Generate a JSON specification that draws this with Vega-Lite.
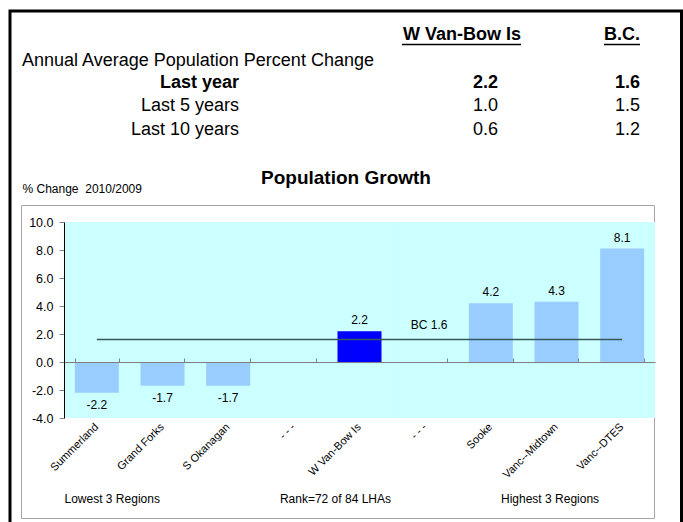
{
  "$schema": "https://vega.github.io/schema/vega-lite/v6.json",
  "width": 671.5,
  "height": 513,
  "autosize": {"type": "none"},
  "padding": {"left": 10, "top": 11, "right": 1.5, "bottom": -2},
  "background": "white",
  "config": {
    "view": {"stroke": "#000000", "strokeWidth": 3},
    "font": "Liberation Sans",
    "text": {"font": "Liberation Sans", "color": "#000000"},
    "locale": {"number": {"decimal": ".", "thousands": ",", "grouping": [3], "currency": ["$", ""], "minus": "-"}}
  },
  "datasets": {
    "regions": [
      {"region": "Summerland", "value": -2.2},
      {"region": "Grand Forks", "value": -1.7},
      {"region": "S Okanagan", "value": -1.7},
      {"region": "- - -", "value": null},
      {"region": "W Van-Bow Is", "value": 2.2},
      {"region": "- - - ", "value": null},
      {"region": "Sooke", "value": 4.2},
      {"region": "Vanc--Midtown", "value": 4.3},
      {"region": "Vanc--DTES", "value": 8.1}
    ],
    "bcline": [
      {"region": "Summerland", "bc": 1.6},
      {"region": "Vanc--DTES", "bc": 1.6}
    ],
    "bclabel": [
      {"region": "- - - ", "bc": 1.6, "label": "BC 1.6"}
    ],
    "table": [
      {"row": "header", "col": "W Van-Bow Is", "text": "W Van-Bow Is", "bold": true, "kind": "head"},
      {"row": "header", "col": "B.C.", "text": "B.C.", "bold": true, "kind": "head"},
      {"row": "annual", "col": "label", "text": "Annual Average Population Percent Change", "bold": false, "kind": "caption"},
      {"row": "Last year", "col": "label", "text": "Last year", "bold": true, "kind": "cell"},
      {"row": "Last year", "col": "W Van-Bow Is", "text": "2.2", "bold": true, "kind": "cell"},
      {"row": "Last year", "col": "B.C.", "text": "1.6", "bold": true, "kind": "cell"},
      {"row": "Last 5 years", "col": "label", "text": "Last 5 years", "bold": false, "kind": "cell"},
      {"row": "Last 5 years", "col": "W Van-Bow Is", "text": "1.0", "bold": false, "kind": "cell"},
      {"row": "Last 5 years", "col": "B.C.", "text": "1.5", "bold": false, "kind": "cell"},
      {"row": "Last 10 years", "col": "label", "text": "Last 10 years", "bold": false, "kind": "cell"},
      {"row": "Last 10 years", "col": "W Van-Bow Is", "text": "0.6", "bold": false, "kind": "cell"},
      {"row": "Last 10 years", "col": "B.C.", "text": "1.2", "bold": false, "kind": "cell"},
      {"row": "title", "col": "label", "text": "Population Growth", "bold": true, "kind": "title"}
    ]
  },
  "layer": [
    {
      "data": {"values": [{"box": "chart frame"}]},
      "mark": {"type": "rect", "fillOpacity": 0, "stroke": "#A6A6A6", "strokeWidth": 1},
      "encoding": {
        "x": {"datum": 0, "type": "quantitative", "scale": {"domain": [0, 1], "range": [11.5, 644.5], "nice": false, "zero": false}, "axis": null},
        "x2": {"datum": 1},
        "y": {"datum": 0, "type": "quantitative", "scale": {"domain": [0, 1], "range": [194.5, 507.5], "nice": false, "zero": false}, "axis": null},
        "y2": {"datum": 1}
      }
    },
    {
      "data": {"name": "table"},
      "encoding": {
        "x": {"field": "col", "type": "nominal", "scale": {"type": "point", "domain": ["label", "W Van-Bow Is", "B.C."], "range": [229, 630], "padding": 0}, "axis": null},
        "y": {"field": "row", "type": "nominal", "scale": {"type": "point", "domain": ["header", "annual", "Last year", "Last 5 years", "Last 10 years", "gap", "title"], "range": [24, 166.5], "padding": 0}, "axis": null},
        "text": {"field": "text"}
      },
      "layer": [
        {"transform": [{"filter": "(datum.kind === 'cell' || datum.kind === 'head') && datum.col !== 'W Van-Bow Is' && datum.bold"}],
         "mark": {"type": "text", "align": "right", "baseline": "middle", "fontSize": 18, "fontWeight": "bold"}},
        {"transform": [{"filter": "datum.kind === 'cell' && datum.col !== 'W Van-Bow Is' && !datum.bold"}],
         "mark": {"type": "text", "align": "right", "baseline": "middle", "fontSize": 18}},
        {"transform": [{"filter": "datum.kind === 'cell' && datum.col === 'W Van-Bow Is' && datum.bold"}],
         "mark": {"type": "text", "align": "right", "baseline": "middle", "fontSize": 18, "fontWeight": "bold", "dx": 58.5}},
        {"transform": [{"filter": "datum.kind === 'cell' && datum.col === 'W Van-Bow Is' && !datum.bold"}],
         "mark": {"type": "text", "align": "right", "baseline": "middle", "fontSize": 18, "dx": 58.5}},
        {"transform": [{"filter": "datum.kind === 'head' && datum.col === 'W Van-Bow Is'"}],
         "mark": {"type": "text", "align": "right", "baseline": "middle", "fontSize": 18, "fontWeight": "bold", "dx": 81.5}},
        {"transform": [{"filter": "datum.kind === 'caption'"}],
         "mark": {"type": "text", "align": "left", "baseline": "middle", "fontSize": 18, "dx": -217, "dy": 2}},
        {"transform": [{"filter": "datum.kind === 'title'"}],
         "mark": {"type": "text", "align": "center", "baseline": "middle", "fontSize": 19, "fontWeight": "bold", "dx": 107}},
        {"transform": [{"filter": "datum.kind === 'head' && datum.col === 'W Van-Bow Is'"}],
         "mark": {"type": "rule", "color": "#000000", "strokeWidth": 1.5, "xOffset": -37.5, "x2Offset": 81.5, "yOffset": 9.5, "y2Offset": 9.5},
         "encoding": {"x2": {"field": "col"}, "y2": {"field": "row"}, "text": null}},
        {"transform": [{"filter": "datum.kind === 'head' && datum.col === 'B.C.'"}],
         "mark": {"type": "rule", "color": "#000000", "strokeWidth": 1.5, "xOffset": -36, "x2Offset": 0, "yOffset": 9.5, "y2Offset": 9.5},
         "encoding": {"x2": {"field": "col"}, "y2": {"field": "row"}, "text": null}}
      ]
    },
    {
      "data": {"name": "regions"},
      "layer": [
        {
          "mark": {"type": "bar", "width": {"band": 1.5}, "color": "#CCFFFF"},
          "encoding": {
            "x": {"field": "region", "type": "nominal", "sort": null,
                  "scale": {"type": "band", "domain": ["Summerland", "Grand Forks", "S Okanagan", "- - -", "W Van-Bow Is", "- - - ", "Sooke", "Vanc--Midtown", "Vanc--DTES"], "range": [54, 645], "paddingInner": 0.33, "paddingOuter": 0.165},
                  "axis": {"orient": "top", "offset": -351, "labels": false, "ticks": true, "tickBand": "extent", "tickSize": 4, "tickColor": "#808080", "domainColor": "#808080", "domainWidth": 1, "title": null, "grid": false, "zindex": 1}},
            "y": {"datum": 10, "type": "quantitative",
                  "scale": {"domain": [-4, 10], "range": [407, 211], "nice": false, "zero": false},
                  "axis": {"orient": "left", "offset": -54, "values": [-4, -2, 0, 2, 4, 6, 8, 10], "format": ".1f", "labelFontSize": 12.5, "labelColor": "#000000", "tickColor": "#808080", "tickSize": 5, "domainColor": "#000000", "labelPadding": 6, "grid": false, "zindex": 1,
                           "title": "% Change\u00a0\u00a02010/2009", "titleAngle": 0, "titleX": -42, "titleY": 177, "titleAlign": "left", "titleBaseline": "middle", "titleFontSize": 12, "titleFontWeight": "normal", "titleColor": "#000000"}},
            "y2": {"datum": -4}
          }
        },
        {
          "mark": {"type": "bar"},
          "encoding": {
            "x": {"field": "region", "type": "nominal", "sort": null,
                  "axis": {"orient": "bottom", "offset": -106, "labelAngle": -45, "labelFontSize": 11, "labelAlign": "right", "labelBaseline": "middle", "labelPadding": 7, "labelColor": "#000000", "labelOverlap": false, "ticks": false, "domain": false, "grid": false,
                           "title": "Lowest 3 Regions\u00a0\u00a0\u00a0\u00a0\u00a0\u00a0\u00a0\u00a0\u00a0\u00a0\u00a0\u00a0\u00a0\u00a0\u00a0\u00a0\u00a0\u00a0\u00a0\u00a0\u00a0\u00a0\u00a0\u00a0\u00a0\u00a0\u00a0\u00a0\u00a0\u00a0\u00a0\u00a0\u00a0\u00a0\u00a0\u00a0Rank=72 of 84 LHAs\u00a0\u00a0\u00a0\u00a0\u00a0\u00a0\u00a0\u00a0\u00a0\u00a0\u00a0\u00a0\u00a0\u00a0\u00a0\u00a0\u00a0\u00a0\u00a0\u00a0\u00a0\u00a0\u00a0\u00a0\u00a0\u00a0\u00a0\u00a0\u00a0\u00a0\u00a0\u00a0\u00a0Highest 3 Regions",
                           "titleFontSize": 12, "titleFontWeight": "normal", "titleColor": "#000000", "titleAnchor": "start", "titleAlign": "left", "titlePadding": 14}},
            "y": {"field": "value", "type": "quantitative"},
            "color": {"condition": {"test": "datum.region === 'W Van-Bow Is'", "value": "#0000FF"}, "value": "#99CCFF"}
          }
        },
        {
          "data": {"name": "bcline"},
          "mark": {"type": "line", "color": "#385858", "strokeWidth": 1.5},
          "encoding": {
            "x": {"field": "region", "type": "nominal", "sort": null, "axis": null},
            "y": {"field": "bc", "type": "quantitative"}
          }
        },
        {
          "transform": [{"filter": "datum.value > 0"}],
          "mark": {"type": "text", "baseline": "alphabetic", "dy": -7, "fontSize": 12},
          "encoding": {
            "x": {"field": "region", "type": "nominal", "sort": null, "axis": null},
            "y": {"field": "value", "type": "quantitative"},
            "text": {"field": "value", "type": "quantitative", "format": ".1f"}
          }
        },
        {
          "transform": [{"filter": "datum.value < 0"}],
          "mark": {"type": "text", "baseline": "top", "dy": 7, "fontSize": 12},
          "encoding": {
            "x": {"field": "region", "type": "nominal", "sort": null, "axis": null},
            "y": {"field": "value", "type": "quantitative"},
            "text": {"field": "value", "type": "quantitative", "format": ".1f"}
          }
        },
        {
          "data": {"name": "bclabel"},
          "mark": {"type": "text", "baseline": "alphabetic", "dy": -11, "fontSize": 12, "dx": 4},
          "encoding": {
            "x": {"field": "region", "type": "nominal", "sort": null, "axis": null},
            "y": {"field": "bc", "type": "quantitative"},
            "text": {"field": "label"}
          }
        }
      ],
      "resolve": {"axis": {"x": "independent"}}
    }
  ],
  "resolve": {"scale": {"x": "independent", "y": "independent"}, "axis": {"x": "independent", "y": "independent"}}
}
